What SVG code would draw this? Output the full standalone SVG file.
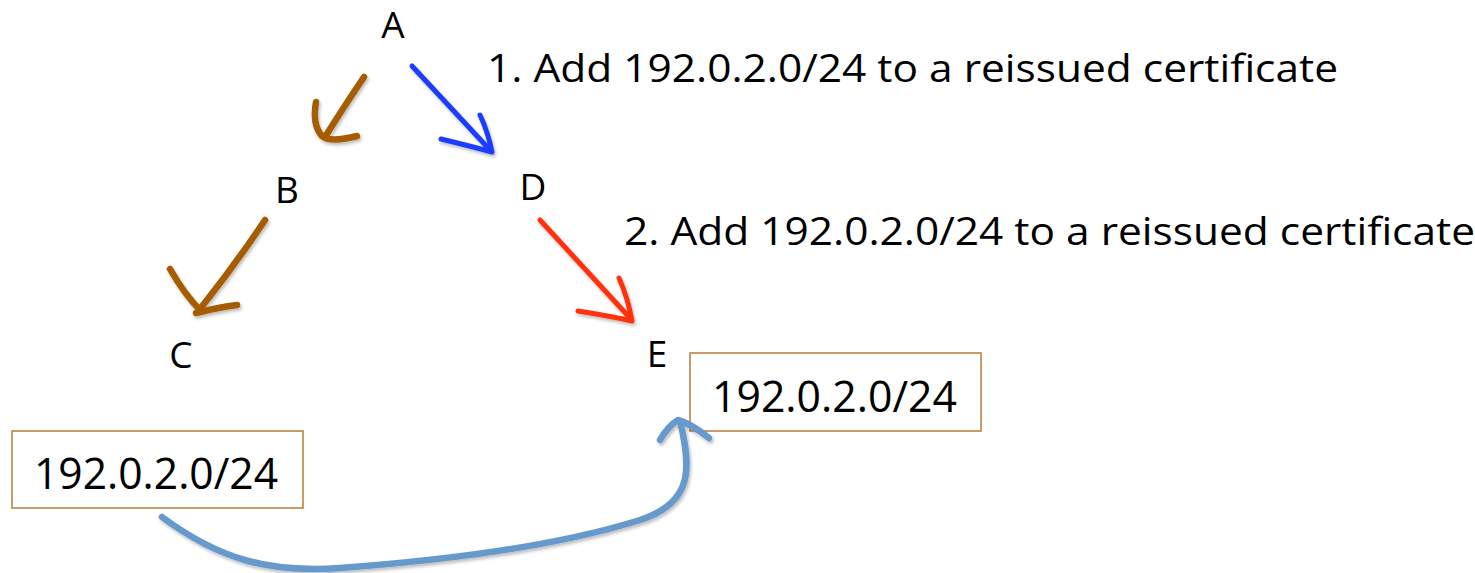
<svg xmlns="http://www.w3.org/2000/svg" width="1475" height="573" viewBox="0 0 1475 573">
<style>
.lbl{font-family:"Open Sans","Liberation Sans",sans-serif;font-size:37px;fill:#000;text-anchor:middle}
.note{font-family:"Open Sans","Liberation Sans",sans-serif;font-size:39px;fill:#000}
.box{fill:#fff;stroke:#BC7A34;stroke-width:1.5}
.boxt{font-family:"Open Sans","Liberation Sans",sans-serif;font-size:43px;fill:#000}
.stroke{fill:none;stroke-linecap:round;stroke-linejoin:round;stroke-width:5;filter:url(#sh)}
.thick{stroke-width:6.5}
</style>
<defs>
<filter id="sh" x="-20%" y="-20%" width="140%" height="140%">
<feDropShadow dx="1.5" dy="2.5" stdDeviation="1.5" flood-color="#000" flood-opacity="0.25"/>
</filter>
</defs>
<g id="A"><text class="lbl" x="393" y="38">A</text></g>
<g id="B"><text class="lbl" x="287" y="203">B</text></g>
<g id="C"><text class="lbl" x="181" y="368">C</text></g>
<g id="D"><text class="lbl" x="533" y="200">D</text></g>
<g id="E"><text class="lbl" x="657" y="367">E</text></g>
<g id="note1"><text class="note" x="487" y="82" textLength="851" lengthAdjust="spacingAndGlyphs">1. Add 192.0.2.0/24 to a reissued certificate</text></g>
<g id="note2"><text class="note" x="624" y="245" textLength="851" lengthAdjust="spacingAndGlyphs">2. Add 192.0.2.0/24 to a reissued certificate</text></g>
<g id="box1"><rect class="box" x="12" y="431" width="291" height="77"/><text class="boxt" x="34" y="489" textLength="244" lengthAdjust="spacingAndGlyphs">192.0.2.0/24</text></g>
<g id="box2"><rect class="box" x="690" y="353" width="291" height="78"/><text class="boxt" x="712" y="412" textLength="245" lengthAdjust="spacingAndGlyphs">192.0.2.0/24</text></g>
<g id="connectors">
<path class="stroke thick" stroke="#A65C06" d="M364,77 Q345,105 325,137 M316,102 Q312,125 322,136 Q330,143 357,136"/>
<path class="stroke" stroke="#1A3CFF" d="M412,66 L490,150 M441,139 Q470,146 492,152 Q488,132 480,115"/>
<path class="stroke thick" stroke="#A65C06" d="M265,220 Q235,265 200,309 M170,269 Q185,295 200,310 M196,313 Q220,307 237,305"/>
<path class="stroke" stroke="#FF3311" d="M540,220 L630,318 M578,311 Q610,316 632,321 Q628,298 619,278"/>
<path class="stroke thick" stroke="#6699CC" d="M162,517 C220,560 270,573 340,568 C450,560 560,545 640,520 C692,503 692,470 680,421 M660,440 Q668,426 678,420 Q690,423 709,438"/>
</g>
</svg>
